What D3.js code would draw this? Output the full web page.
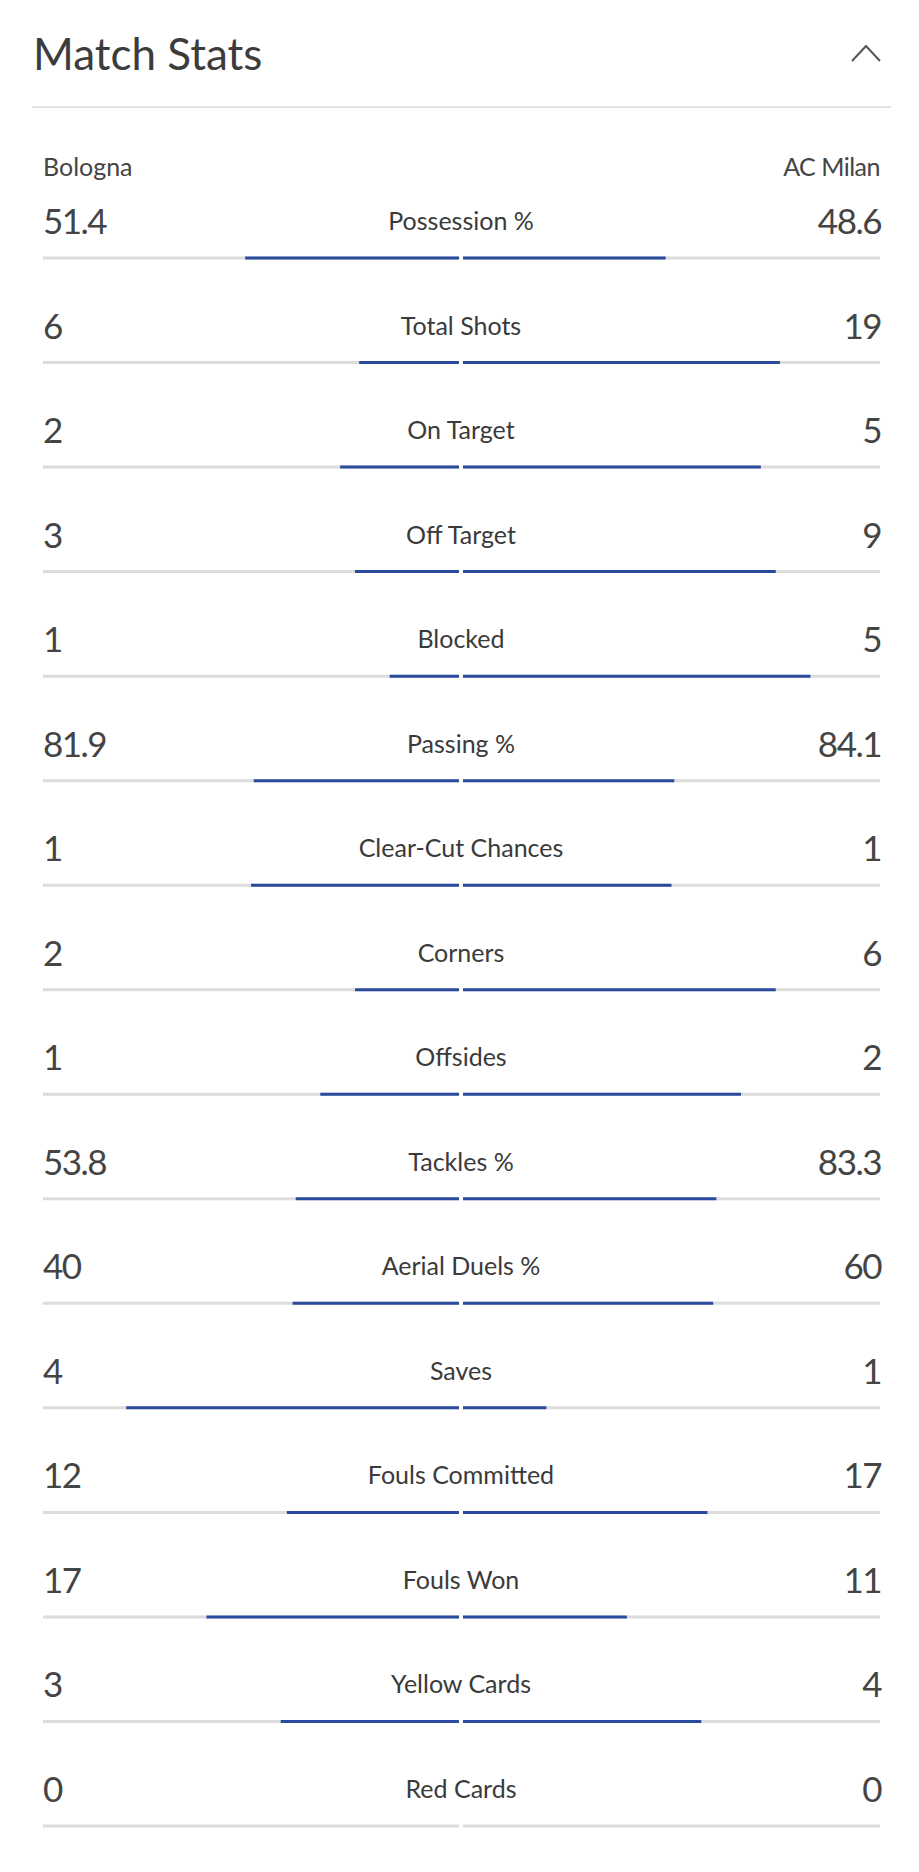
<!DOCTYPE html>
<html>
<head>
<meta charset="utf-8">
<script src="https://cdn.jsdelivr.net/npm/d3@7"></script>
<style>
    body { margin: 0; background: #fff; }
    text { font-family: Lato, "Noto Sans", sans-serif; fill: #444; }
</style>
</head>
<body>
<div id="match-stats"></div>
<script>
// Stats, top to bottom
const stats = ["Possession %", "Total Shots", "On Target", "Off Target", "Blocked",
    "Passing %", "Clear-Cut Chances", "Corners", "Offsides", "Tackles %",
    "Aerial Duels %", "Saves", "Fouls Committed", "Fouls Won", "Yellow Cards", "Red Cards"];
const teams = ["Bologna", "AC Milan"];
const homeValues = [51.4, 6, 2, 3, 1, 81.9, 1, 2, 1, 53.8, 40, 4, 12, 17, 3, 0];
const awayValues = [48.6, 19, 5, 9, 5, 84.1, 1, 6, 2, 83.3, 60, 1, 17, 11, 4, 0];

const width = 919;
const height = 1872;
const left = 43, right = 880, center = 461, gap = 2;

const svg = d3.select("#match-stats")
    .append("svg")
    .attr("width", width)
    .attr("height", height);

// Header
svg.append("text")
    .attr("x", 33)
    .attr("y", 70)
    .style("font-size", "44px")
    .style("fill", "#3c3c3c")
    .text("Match Stats");

svg.append("path")
    .attr("d", "M852,61 L866,46 L880,61")
    .attr("fill", "none")
    .attr("stroke", "#555")
    .attr("stroke-width", 2);

svg.append("line")
    .attr("x1", 32).attr("x2", 891)
    .attr("y1", 107).attr("y2", 107)
    .attr("stroke", "#e3e3e3")
    .attr("stroke-width", 2);

// Team names
svg.append("text")
    .attr("x", left).attr("y", 176)
    .style("font-size", "25px")
    .text(teams[0]);
svg.append("text")
    .attr("x", right).attr("y", 176)
    .attr("text-anchor", "end")
    .style("font-size", "25px")
    .style("letter-spacing", "-0.5px")
    .text(teams[1]);

// Row positions (y of the bar line)
const y = d3.scalePoint()
    .domain(stats)
    .range([258, 1826]);

// Share of total -> bar length on each half
const xLeft = d3.scaleLinear().domain([0, 1]).range([0, center - gap - left]);
const xRight = d3.scaleLinear().domain([0, 1]).range([0, right - center - gap]);

const rows = svg.selectAll(".row")
    .data(stats.map((s, i) => ({ stat: s, home: homeValues[i], away: awayValues[i] })))
    .enter().append("g")
    .attr("class", "row")
    .attr("transform", d => `translate(0,${y(d.stat)})`);

// Gray tracks
rows.append("line")
    .attr("x1", left).attr("x2", center - gap)
    .attr("stroke", "#dcdcdc").attr("stroke-width", 3);
rows.append("line")
    .attr("x1", center + gap).attr("x2", right)
    .attr("stroke", "#dcdcdc").attr("stroke-width", 3);

// Blue bars
const share = (v, d) => (d.home + d.away) === 0 ? 0 : v / (d.home + d.away);
rows.filter(d => d.home > 0).append("line")
    .attr("x1", d => center - gap - xLeft(share(d.home, d)))
    .attr("x2", center - gap)
    .attr("stroke", "#2a4a9e").attr("stroke-width", 3);
rows.filter(d => d.away > 0).append("line")
    .attr("x1", center + gap)
    .attr("x2", d => center + gap + xRight(share(d.away, d)))
    .attr("stroke", "#2a4a9e").attr("stroke-width", 3);

// Values and labels
rows.append("text")
    .attr("x", left).attr("y", -24)
    .style("font-size", "35px")
    .style("letter-spacing", "-1.5px")
    .text(d => String(d.home));
rows.append("text")
    .attr("x", right + 1).attr("y", -24)
    .attr("text-anchor", "end")
    .style("font-size", "35px")
    .style("letter-spacing", "-1.5px")
    .text(d => String(d.away));
rows.append("text")
    .attr("x", center).attr("y", -28)
    .attr("text-anchor", "middle")
    .style("font-size", "25px")
    .style("fill", "#3a3a3a")
    .text(d => d.stat);
</script>
</body>
</html>
